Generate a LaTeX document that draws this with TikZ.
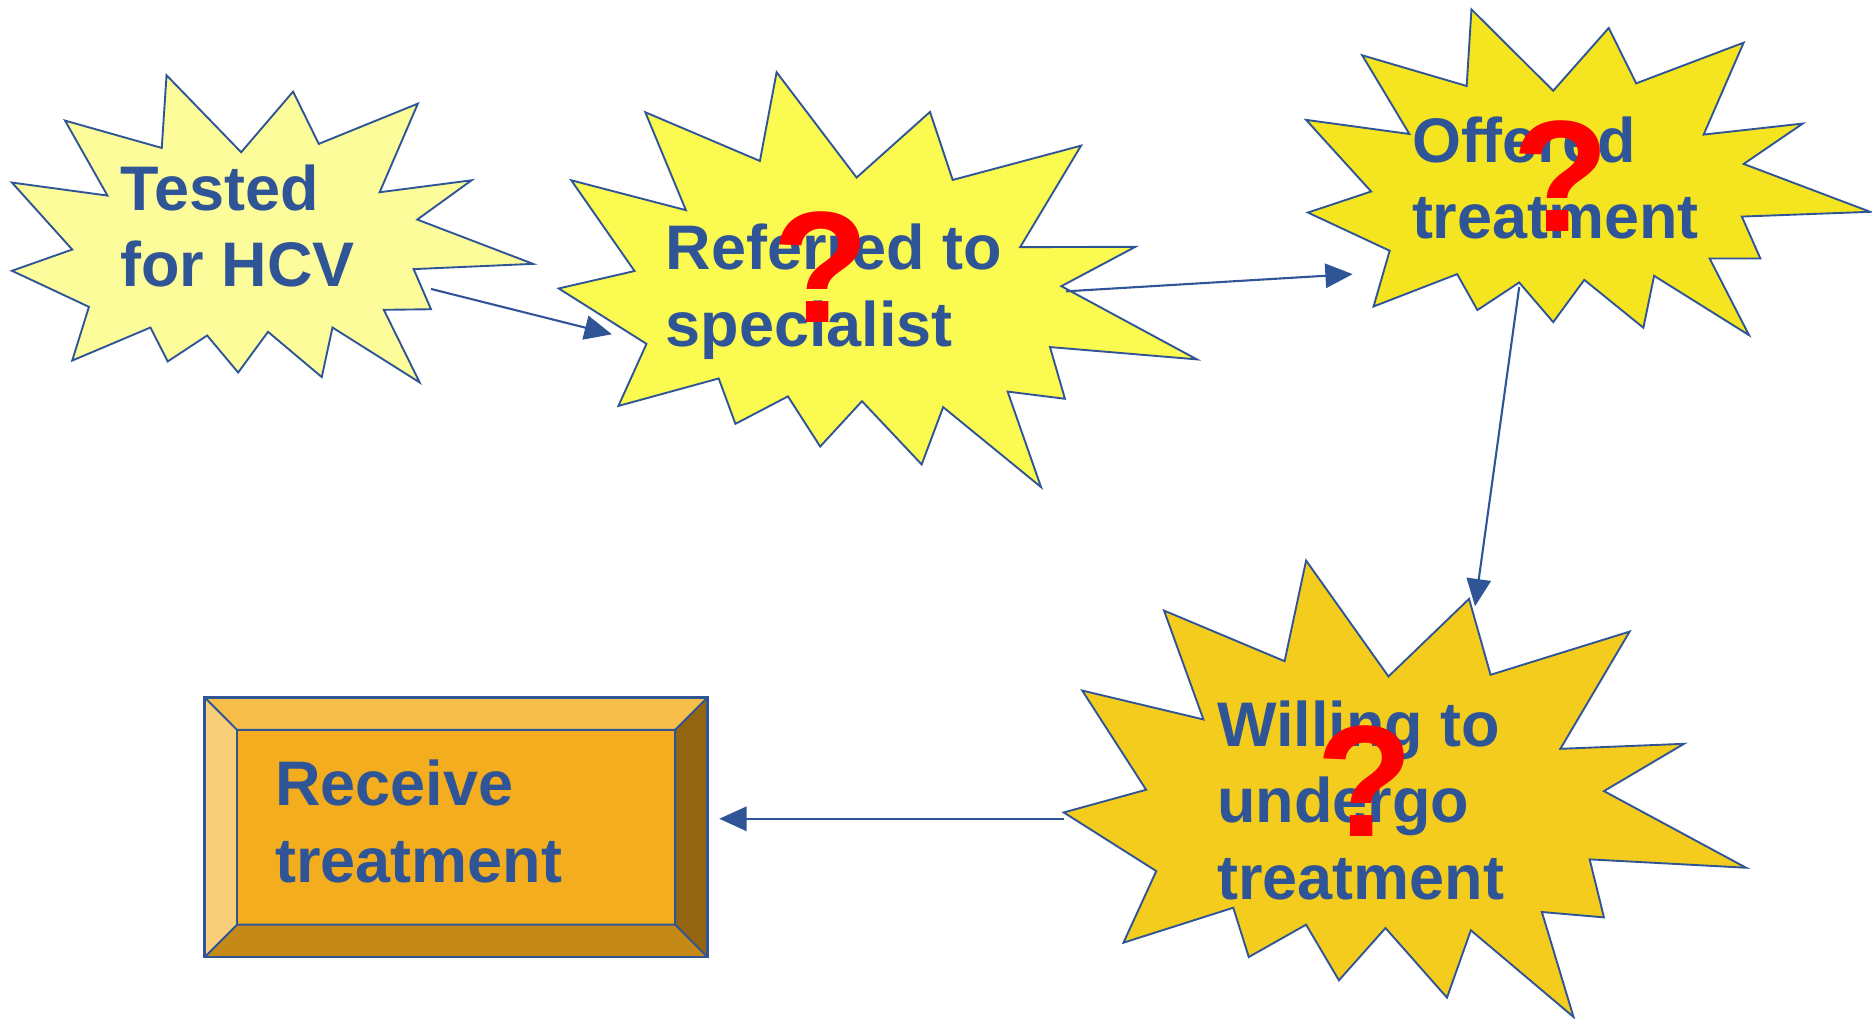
\documentclass[tikz,border=0pt]{standalone}
\usepackage{fontspec}
\setmainfont{Liberation Sans}
\usetikzlibrary{arrows.meta}
\definecolor{hcvBlue}{RGB}{47,85,151}
\definecolor{hcvRed}{RGB}{255,0,0}
\definecolor{starPale}{RGB}{252,252,154}
\definecolor{starLemon}{RGB}{250,250,80}
\definecolor{starGold}{RGB}{245,229,32}
\definecolor{starAmber}{RGB}{243,204,30}
\definecolor{boxFace}{RGB}{243,173,30}
\definecolor{boxTop}{RGB}{247,190,74}
\definecolor{boxLeft}{RGB}{249,206,120}
\definecolor{boxRight}{RGB}{147,101,17}
\definecolor{boxBottom}{RGB}{196,137,22}

\begin{document}
\begin{tikzpicture}[x=0.01cm, y=-0.01cm,
  burst/.style={draw=hcvBlue, line width=0.45pt, line join=miter},
  stage/.style={text=hcvBlue, font=\fontsize{15}{18.2}\selectfont\bfseries, align=left, inner sep=0pt, anchor=base west},
  doubt/.style={text=hcvRed, font=\fontsize{37.8}{40}\selectfont\bfseries, inner sep=0pt, anchor=base},
  flow/.style={hcvBlue, line width=0.5pt, -{Triangle[length=6.5pt, width=5.8pt]}}]
  \useasboundingbox (0,0) rectangle (1568,853);

  % Tested for HCV
  \draw[burst, fill=starPale] (139.5,63) -- (202,127.5) -- (245.5,76.7) -- (267,120.5) -- (350,86.8)
    -- (318,161) -- (395,151) -- (349.5,183.9) -- (446.5,221) -- (346.5,225.4) -- (361,259)
    -- (321.5,259.5) -- (351.5,320.3) -- (278.5,274.3) -- (269.5,315.8) -- (224.5,277.9)
    -- (199.5,312) -- (173.5,281) -- (140.5,302.7) -- (126,274.3) -- (60.5,302) -- (74.5,257)
    -- (10,226.8) -- (60.5,209) -- (10,152.9) -- (90,163.8) -- (54.5,101) -- (135.5,123.9) -- cycle;
  \node[stage] (tested) at (100,240) {Tested\\for HCV};
  \coordinate (tested-out) at (361,242);

  % Referred to specialist
  \draw[burst, fill=starLemon] (650.5,60.5) -- (717.5,148.7) -- (779,93.7) -- (798,150.7) -- (905.5,122)
    -- (854.5,207) -- (951,206.7) -- (889,239.7) -- (1002.5,301) -- (879.5,290.7) -- (892,334)
    -- (844,328) -- (872,408) -- (790,341) -- (772,389) -- (722,336) -- (687,374) -- (660,332)
    -- (616,355) -- (602,317) -- (518,340) -- (541.5,288) -- (468,241.6) -- (531.5,227)
    -- (478.5,151) -- (574.5,176) -- (540.5,94) -- (636.5,134.8) -- cycle;
  \node[stage] (referred) at (557,290) {Referred to\\specialist};
  \node[doubt] (referred-q) at (687.5,270) {?};
  \coordinate (referred-in) at (512.5,280);
  \coordinate (referred-out) at (893,244);

  % Offered treatment
  \draw[burst, fill=starGold] (1232.5,7.8) -- (1301,76) -- (1347.5,23.4) -- (1370.5,69.8) -- (1460.5,35.7)
    -- (1427,112.7) -- (1510,103.5) -- (1460.5,137.3) -- (1566.5,177.4) -- (1459,181.4)
    -- (1474.5,216.5) -- (1432,216.5) -- (1465,280.7) -- (1385.5,231) -- (1376.5,274.5)
    -- (1327,234.4) -- (1301,269.8) -- (1272.5,236.6) -- (1237.5,259.7) -- (1220.5,229.6)
    -- (1150.5,256.7) -- (1164,210) -- (1095.5,178) -- (1148.5,160.4) -- (1094,100.4)
    -- (1180.5,112.2) -- (1141,46.3) -- (1228.5,72) -- cycle;
  \node[stage] (offered) at (1182,200) {Offered\\treatment};
  \node[doubt] (offered-q) at (1307.5,194) {?};
  \coordinate (offered-in) at (1133,229.6);
  \coordinate (offered-out) at (1272.5,240.5);

  % Willing to undergo treatment
  \draw[burst, fill=starAmber] (1094,469.5) -- (1163,566.6) -- (1230.5,501.6) -- (1248.5,565.2) -- (1365,529)
    -- (1307,627.2) -- (1410.5,623) -- (1343.5,662.6) -- (1462.5,726.8) -- (1331.5,719.8)
    -- (1343.5,768.4) -- (1291.5,763.9) -- (1318,851.8) -- (1232,779.2) -- (1212,835.6)
    -- (1160.5,777.3) -- (1121.5,821.1) -- (1094,774.5) -- (1046,801.6) -- (1033,760.3)
    -- (941,789.6) -- (968.5,729.6) -- (891,680.5) -- (960,661.5) -- (906.5,578.4)
    -- (1008,602.6) -- (975,511.4) -- (1076,553.8) -- cycle;
  \node[stage] (willing) at (1019,753) {Willing to\\undergo\\treatment};
  \node[doubt] (willing-q) at (1143,701) {?};
  \coordinate (willing-in) at (1235.5,507.8);
  \coordinate (willing-out) at (891,685.8);

  % Receive treatment (bevelled box)
  \fill[boxFace] (198.5,611.3) rectangle (565.5,774.5);
  \fill[boxTop] (171.5,584.2) -- (592.5,584.2) -- (565.5,611.3) -- (198.5,611.3) -- cycle;
  \fill[boxLeft] (171.5,584.2) -- (198.5,611.3) -- (198.5,774.5) -- (171.5,801.6) -- cycle;
  \fill[boxRight] (592.5,584.2) -- (592.5,801.6) -- (565.5,774.5) -- (565.5,611.3) -- cycle;
  \fill[boxBottom] (171.5,801.6) -- (198.5,774.5) -- (565.5,774.5) -- (592.5,801.6) -- cycle;
  \draw[hcvBlue, line width=0.45pt] (198.5,611.3) rectangle (565.5,774.5)
    (171.5,584.2) -- (198.5,611.3) (592.5,584.2) -- (565.5,611.3)
    (171.5,801.6) -- (198.5,774.5) (592.5,801.6) -- (565.5,774.5);
  \draw[hcvBlue, line width=0.6pt] (171.5,584.2) rectangle (592.5,801.6);
  \node[stage] (receive) at (230,739) {Receive\\treatment};
  \coordinate (receive-in) at (602.5,685.8);

  % Arrows
  \draw[flow] (tested-out) -- (referred-in);
  \draw[flow] (referred-out) -- (offered-in);
  \draw[flow] (offered-out) -- (willing-in);
  \draw[flow] (willing-out) -- (receive-in);
\end{tikzpicture}
\end{document}
